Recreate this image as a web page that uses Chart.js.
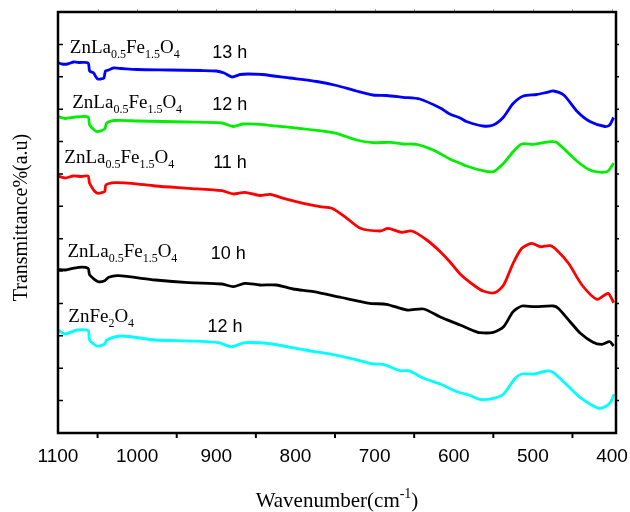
<!DOCTYPE html>
<html>
<head>
<meta charset="utf-8">
<script src="https://cdn.jsdelivr.net/npm/chart.js@4.4.1/dist/chart.umd.min.js"></script>
<style>
  body { margin: 0; background: #fff; }
  #wrap { width: 630px; height: 512px; }
</style>
</head>
<body>
<div id="wrap"><canvas id="ftir" width="630" height="512"></canvas></div>
<script>
// FTIR spectra, transmittance in arbitrary units (curves are offset)
const wnBlue = [1100, 1095, 1088, 1080, 1073, 1062, 1060, 1055, 1052, 1050, 1046, 1042, 1040, 1036, 1030, 1020, 1000, 960, 920, 900, 890, 880, 870, 860, 842, 807, 773, 748, 723, 702, 685, 664, 643, 617, 605, 592, 584, 563, 550, 537, 525, 512, 495, 482, 474, 461, 444, 428, 409, 403, 398];
const tBlue = [370.5, 369, 369, 371, 370.5, 370, 362, 360, 356, 354, 354, 355, 362, 363, 365, 364.5, 363.5, 363, 362.5, 362, 360, 356, 358.5, 359, 358.5, 355, 351.5, 347.5, 342, 338, 337.5, 335.7, 334, 325, 319, 315, 311.5, 307, 308, 316, 329.5, 337, 338.5, 340.7, 342, 338, 321.5, 311.5, 306.5, 308, 315.5];

const wnGreen = [1100, 1091, 1078, 1062, 1060, 1051, 1041, 1038.5, 1028, 999, 936, 893, 878.5, 866, 845, 803, 773, 748, 723, 702, 680, 664, 647, 626, 605, 592, 584, 563, 550, 537, 525, 514, 499, 478, 470, 444.5, 428, 413, 405, 398];
const tGreen = [316.5, 314.5, 316, 316, 308, 301.5, 304, 310, 312.5, 312, 311, 310, 306.5, 309, 308.7, 305.3, 302.7, 299.7, 293, 290.3, 290.7, 289, 288.7, 283, 274, 269.7, 267, 262.3, 261.3, 269.7, 281.3, 289, 288.7, 291.3, 290.7, 272, 263, 260.7, 262, 269.7];

const wnRed = [1100, 1091, 1081, 1070, 1062, 1060, 1051, 1041, 1039.5, 1028, 1007, 977, 935, 893, 878.5, 864, 845, 832, 815, 790, 769, 754, 735, 718, 693, 683, 666, 653, 634, 617, 605, 592, 575, 563, 548, 537, 525, 514, 501.5, 491, 478, 470, 455, 438, 419, 405, 398];
const tRed = [257, 255, 257, 256.5, 257, 249.7, 240, 241.5, 248, 250.3, 249.7, 247, 244.7, 242.3, 239, 240.7, 237.5, 238.7, 234.7, 229.7, 226.3, 224.7, 214.7, 204.7, 202, 204.7, 200.7, 202, 193, 181.3, 171.3, 159, 148, 142, 140.3, 148, 169.7, 184.7, 189.7, 186.3, 187.3, 183, 169.7, 148, 133.7, 139.7, 130.3];

const wnBlack = [1100, 1091, 1074, 1062, 1060, 1049, 1041, 1036, 1024, 977, 935, 893, 878.5, 864, 845, 824, 803, 777, 742, 706, 685, 659, 638, 617, 592, 575, 567, 550, 537, 525, 514, 499, 474, 468, 453, 440, 424, 413, 403, 398];
const tBlack = [163.7, 163, 165.7, 164.7, 158, 151.3, 152.3, 155.7, 157.3, 153, 150.3, 149, 146.3, 149.7, 148, 148, 144, 141.3, 135.5, 129.7, 128.7, 123, 124, 116, 108, 102.3, 100.3, 100.7, 106.3, 121.3, 127, 126.3, 127, 124.7, 111.3, 99.7, 90.7, 88.7, 91.3, 87];

const wnCyan = [1100, 1091, 1076, 1062, 1060, 1051, 1041, 1038.5, 1020, 977, 935, 897.5, 880.5, 864, 830, 788, 754, 725, 702, 689, 668, 657, 638, 617, 596, 581, 567, 550, 537, 522.5, 514, 499, 482.5, 474, 457, 440, 417, 407, 401.6, 397.5];
const tCyan = [103, 99, 103, 102.3, 93, 87, 89, 93, 97, 93, 92, 90.3, 86.3, 90.3, 89, 83, 78.7, 73.7, 69, 68.7, 62.3, 62.3, 54.7, 49, 41.3, 38, 33.7, 34.7, 39, 54.7, 59, 59, 62, 60.3, 48, 35.3, 24.7, 27, 31.3, 38.7];

const xTickLabels = [1100, 1000, 900, 800, 700, 600, 500, 400];
const xMinorTicks = [1050, 950, 850, 750, 650, 550, 450];

function pts(xs, ys) {
  return xs.map((x, i) => ({ x: x, y: ys[i] }));
}

// draws text made of pieces with their own size / vertical shift (sub- and superscripts)
function richText(ctx, parts, x, y, align) {
  let total = 0;
  parts.forEach(p => {
    ctx.font = p.font;
    total += ctx.measureText(p.t).width;
  });
  let cx = align === 'center' ? x - total / 2 : x;
  ctx.textAlign = 'left';
  ctx.textBaseline = 'alphabetic';
  parts.forEach(p => {
    ctx.font = p.font;
    ctx.fillText(p.t, cx, y + (p.dy || 0));
    cx += ctx.measureText(p.t).width;
  });
}

const serif = '"Liberation Serif", "Times New Roman", serif';
const sans = '"Liberation Sans", Arial, sans-serif';

function laName() {
  return [
    { t: 'ZnLa', font: '19px ' + serif },
    { t: '0.5', font: '12px ' + serif, dy: 5 },
    { t: 'Fe', font: '19px ' + serif },
    { t: '1.5', font: '12px ' + serif, dy: 5 },
    { t: 'O', font: '19px ' + serif },
    { t: '4', font: '12px ' + serif, dy: 5 }
  ];
}
const feName = [
  { t: 'ZnFe', font: '19px ' + serif },
  { t: '2', font: '12px ' + serif, dy: 5 },
  { t: 'O', font: '19px ' + serif },
  { t: '4', font: '12px ' + serif, dy: 5 }
];

// label anchors in data coordinates (wavenumber, a.u.)
const labels = [
  { name: laName(), nx: 1085, ny: 380, time: '13 h', tx: 905, ty: 375 },
  { name: laName(), nx: 1082, ny: 325, time: '12 h', tx: 905, ty: 323 },
  { name: laName(), nx: 1092, ny: 270, time: '11 h', tx: 904, ty: 265 },
  { name: laName(), nx: 1088, ny: 176, time: '10 h', tx: 907, ty: 174 },
  { name: feName, nx: 1087, ny: 111, time: '12 h', tx: 911, ty: 101 }
];

const framePlugin = {
  id: 'frame',
  afterDraw(chart) {
    const ctx = chart.ctx;
    const a = chart.chartArea;
    const xs = chart.scales.x;
    ctx.save();

    // top ticks, light grey
    ctx.strokeStyle = '#aaa';
    ctx.lineWidth = 1;
    for (let w = 1050; w >= 400; w -= 50) {
      const px = Math.round(xs.getPixelForValue(w)) + 0.5;
      ctx.beginPath();
      ctx.moveTo(px, a.top);
      ctx.lineTo(px, a.top - 3);
      ctx.stroke();
    }

    ctx.strokeStyle = '#000';
    ctx.lineWidth = 2.5;
    ctx.strokeRect(a.left, a.top, a.right - a.left, a.bottom - a.top);

    // y ticks: inward on the left, outward on the right
    ctx.lineWidth = 1.5;
    const step = (a.bottom - a.top) / 13;
    for (let i = 1; i < 13; i++) {
      const py = a.bottom - i * step;
      ctx.beginPath();
      ctx.moveTo(a.left, py);
      ctx.lineTo(a.left + 5, py);
      ctx.moveTo(a.right, py);
      ctx.lineTo(a.right + 3, py);
      ctx.stroke();
    }

    // bottom minor ticks
    ctx.lineWidth = 2;
    xMinorTicks.forEach(w => {
      const px = xs.getPixelForValue(w);
      ctx.beginPath();
      ctx.moveTo(px, a.bottom);
      ctx.lineTo(px, a.bottom + 5);
      ctx.stroke();
    });

    ctx.fillStyle = '#000';
    ctx.font = '19px ' + sans;
    ctx.textAlign = 'center';
    ctx.textBaseline = 'middle';
    xTickLabels.forEach(w => {
      ctx.fillText(String(w), xs.getPixelForValue(w), 457);
    });

    richText(ctx, [
      { t: 'Wavenumber(cm', font: '21px ' + serif },
      { t: '-1', font: '14px ' + serif, dy: -9 },
      { t: ')', font: '21px ' + serif }
    ], (a.left + a.right) / 2, 507, 'center');

    ctx.save();
    ctx.translate(27, (a.top + a.bottom) / 2 - 5);
    ctx.rotate(-Math.PI / 2);
    richText(ctx, [{ t: 'Transmittance%(a.u)', font: '20px ' + serif }], 0, 0, 'center');
    ctx.restore();

    const ys = chart.scales.y;
    labels.forEach(l => {
      richText(ctx, l.name, xs.getPixelForValue(l.nx), ys.getPixelForValue(l.ny), 'left');
      ctx.font = '18px ' + sans;
      ctx.textAlign = 'left';
      ctx.textBaseline = 'alphabetic';
      ctx.fillText(l.time, xs.getPixelForValue(l.tx), ys.getPixelForValue(l.ty));
    });

    ctx.restore();
  }
};

function series(label, data, color) {
  return {
    label: label,
    data: data,
    borderColor: color,
    backgroundColor: color,
    borderWidth: 2.8,
    pointRadius: 0,
    tension: 0.25,
    fill: false
  };
}

new Chart(document.getElementById('ftir').getContext('2d'), {
  type: 'line',
  data: {
    datasets: [
      series('ZnLa0.5Fe1.5O4 13 h', pts(wnBlue, tBlue), '#0000ff'),
      series('ZnLa0.5Fe1.5O4 12 h', pts(wnGreen, tGreen), '#00ee00'),
      series('ZnLa0.5Fe1.5O4 11 h', pts(wnRed, tRed), '#ff0000'),
      series('ZnLa0.5Fe1.5O4 10 h', pts(wnBlack, tBlack), '#000000'),
      series('ZnFe2O4 12 h', pts(wnCyan, tCyan), '#00ffff')
    ]
  },
  options: {
    responsive: false,
    animation: false,
    layout: { padding: { left: 58, right: 14, top: 12, bottom: 79 } },
    scales: {
      x: { type: 'linear', reverse: true, min: 395, max: 1100, display: false },
      y: { type: 'linear', min: 0, max: 421, display: false }
    },
    plugins: {
      legend: { display: false },
      tooltip: { enabled: false }
    }
  },
  plugins: [framePlugin]
});
</script>
</body>
</html>
